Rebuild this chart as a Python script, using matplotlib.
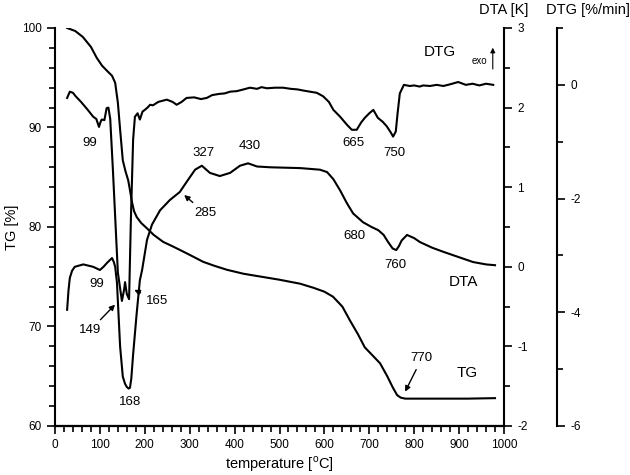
import matplotlib
matplotlib.use('Agg')
import matplotlib.pyplot as plt
from matplotlib.ticker import MultipleLocator, FixedLocator

plt.rcParams['font.family'] = ['Liberation Sans', 'DejaVu Sans']
plt.rcParams['mathtext.fontset'] = 'custom'
plt.rcParams['mathtext.rm'] = 'Liberation Sans'
plt.rcParams['axes.unicode_minus'] = False

# TG curve [%]
tg_x = [27, 45, 62, 80, 93, 105, 118, 127, 134, 140, 145, 151, 157, 163, 167, 171,
        176, 182, 192, 204, 220, 241, 260, 278, 300, 330, 355, 383, 420, 460, 500,
        546, 575, 600, 619, 640, 657, 675, 690, 705, 724, 740, 752, 762, 770, 780,
        850, 920, 980]
tg_y = [100, 99.7, 99.1, 98.1, 97.0, 96.2, 95.6, 95.2, 94.5, 92.5, 89.8, 86.7, 85.6,
        84.7, 83.7, 82.6, 81.6, 81.0, 80.4, 79.9, 79.2, 78.5, 78.1, 77.7, 77.2, 76.5,
        76.1, 75.7, 75.3, 75.0, 74.7, 74.3, 73.9, 73.5, 73.0, 72.0, 70.6, 69.2, 67.9,
        67.2, 66.3, 65.0, 63.9, 63.1, 62.85, 62.75, 62.75, 62.75, 62.8]

# DTA curve [K]
dta_x = [27, 30, 33, 38, 44, 63, 85, 100, 108, 116, 127, 131, 134, 138, 145, 151,
         156, 160, 164, 167, 170, 174, 182, 189, 194, 205, 216, 234, 256, 278, 296,
         312, 327, 345, 367, 390, 412, 430, 450, 480, 546, 590, 606, 620, 635, 650,
         664, 686, 705, 720, 732, 742, 752, 760, 766, 772, 784, 800, 813, 840, 864,
         900, 931, 960, 980]
dta_y = [-0.54, -0.3, -0.14, -0.05, 0.0, 0.03, 0.0, -0.04, 0.0, 0.05, 0.11, 0.06,
         0.0, -0.2, -1.0, -1.38, -1.47, -1.51, -1.53, -1.52, -1.4, -1.1, -0.58, -0.17,
         -0.04, 0.34, 0.53, 0.71, 0.84, 0.94, 1.09, 1.22, 1.27, 1.18, 1.14, 1.18, 1.27,
         1.3, 1.26, 1.25, 1.24, 1.22, 1.19, 1.1, 0.96, 0.8, 0.67, 0.56, 0.5, 0.46, 0.4,
         0.31, 0.23, 0.21, 0.26, 0.33, 0.4, 0.36, 0.31, 0.24, 0.19, 0.12, 0.06, 0.03, 0.02]

# DTG curve [%/min]
dtg_x = [27, 33, 40, 46, 58, 73, 85, 92, 98, 101, 104, 110, 115, 119, 123, 129,
         140, 149, 154, 156, 160, 165, 169, 174, 178, 184, 189, 195, 200, 206, 212,
         218, 230, 249, 262, 271, 282, 293, 310, 325, 338, 350, 365, 378, 390, 405,
         420, 434, 450, 460, 472, 490, 508, 525, 540, 553, 568, 583, 597, 610, 620,
         635, 650, 661, 672, 682, 690, 700, 709, 719, 730, 739, 748, 753, 759, 763,
         768, 777, 790, 800, 812, 820, 835, 850, 865, 880, 898, 915, 930, 945, 960, 976]
dtg_y = [-0.23, -0.12, -0.14, -0.2, -0.3, -0.44, -0.56, -0.6, -0.74, -0.66, -0.61,
         -0.62, -0.41, -0.4, -0.6, -1.5, -3.3, -3.8, -3.6, -3.47, -3.68, -3.77, -2.37,
         -0.96, -0.56, -0.5, -0.61, -0.47, -0.44, -0.4, -0.35, -0.36, -0.3, -0.26, -0.3,
         -0.35, -0.3, -0.23, -0.22, -0.25, -0.23, -0.18, -0.16, -0.15, -0.12, -0.11,
         -0.08, -0.05, -0.07, -0.04, -0.06, -0.05, -0.05, -0.07, -0.08, -0.1, -0.12,
         -0.14, -0.2, -0.3, -0.44, -0.56, -0.7, -0.79, -0.79, -0.66, -0.58, -0.5,
         -0.44, -0.58, -0.65, -0.73, -0.84, -0.91, -0.82, -0.5, -0.15, 0.0, -0.02,
         -0.01, -0.03, -0.01, -0.02, 0.0, -0.02, 0.01, 0.05, 0.0, 0.02, -0.01, 0.02, 0.0]

fig = plt.figure(figsize=(6.3, 4.75), dpi=100)
ax = fig.add_axes([55 / 630, 1 - 426 / 475, 449 / 630, 398 / 475])
ax2 = ax.twinx()
ax3 = ax.twinx()

lw = 1.5
ax.plot(tg_x, tg_y, color='black', lw=lw)
ax2.plot(dta_x, dta_y, color='black', lw=lw)
ax3.plot(dtg_x, dtg_y, color='black', lw=lw)

ax.set_xlim(0, 1000)
ax.set_ylim(60, 100)
ax2.set_ylim(-2, 3)
ax3.set_ylim(-6, 1)

for a in (ax, ax2, ax3):
    a.spines['top'].set_visible(False)
    a.tick_params(which='major', length=6, width=1.2, labelsize=8.5, direction='out')
    a.tick_params(which='minor', length=4, width=1.2, direction='out')
    for s in a.spines.values():
        s.set_linewidth(1.5)
ax.spines['right'].set_visible(False)
ax2.spines['left'].set_visible(False)
ax3.spines['left'].set_visible(False)
ax3.spines['right'].set_position(('axes', 502 / 449))

ax.xaxis.set_major_locator(MultipleLocator(100))
ax.xaxis.set_minor_locator(MultipleLocator(20))
ax.yaxis.set_major_locator(MultipleLocator(10))
ax.yaxis.set_minor_locator(MultipleLocator(2))
ax2.yaxis.set_major_locator(MultipleLocator(1))
ax2.yaxis.set_minor_locator(MultipleLocator(0.5))
ax3.yaxis.set_major_locator(FixedLocator([-6, -4, -2, 0]))
ax3.yaxis.set_minor_locator(FixedLocator([-5, -3, -1, 1]))

ax.set_xlabel('temperature [$^{\\rm o}$C]', fontsize=10.5, labelpad=2)
ax.set_ylabel('TG [%]', fontsize=10.5, labelpad=2)
fig.text(504 / 630, 1 - 10 / 475, 'DTA [K]', fontsize=10.5, ha='center', va='center')
fig.text(588 / 630, 1 - 10 / 475, 'DTG [%/min]', fontsize=10.5, ha='center', va='center')

fs = 9.5
labels = [('99', 78, 88.4), ('327', 330, 87.4), ('430', 434, 88.1),
          ('665', 664, 88.4), ('750', 755, 87.4), ('680', 668, 79.1),
          ('760', 759, 76.2), ('99', 93, 74.3), ('168', 167, 62.4)]
for t, x, y in labels:
    ax.text(x, y, t, fontsize=fs, ha='center', va='center')
ax.text(857, 97.6, 'DTG', fontsize=11, ha='center', va='center')
ax.text(909, 74.5, 'DTA', fontsize=11, ha='center', va='center')
ax.text(917, 65.3, 'TG', fontsize=11, ha='center', va='center')
ax.text(946, 96.7, 'exo', fontsize=7, ha='center', va='center')
ax.annotate('', xy=(975, 98.3), xytext=(975, 95.6),
            arrowprops=dict(arrowstyle='-|>', color='black', lw=0.8, mutation_scale=7))

arr = dict(arrowstyle='-|>', color='black', lw=1.0, mutation_scale=8)
ax.annotate('285', xy=(283, 83.4), xytext=(334, 81.4), fontsize=fs,
            ha='center', va='center', arrowprops=arr)
ax.annotate('770', xy=(777, 63.2), xytext=(817, 66.8), fontsize=fs,
            ha='center', va='center', arrowprops=arr)
ax.annotate('149', xy=(138, 72.4), xytext=(78, 69.6), fontsize=fs,
            ha='center', va='center', arrowprops=arr)
ax.annotate('165', xy=(171, 73.8), xytext=(227, 72.6), fontsize=fs,
            ha='center', va='center', arrowprops=arr)

fig.savefig('out.png', dpi=100)
